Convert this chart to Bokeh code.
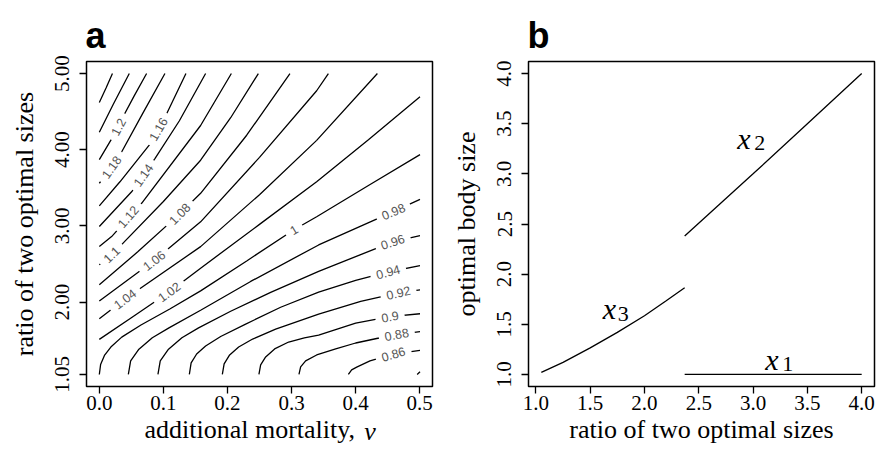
from bokeh.plotting import figure
from bokeh.layouts import row
from bokeh.models import Range1d, FixedTicker, LinearAxis
from bokeh.embed import file_html
from bokeh.resources import INLINE
from bokeh.core.properties import value

# ---------------- panel a : contour lines (v = additional mortality, r = ratio) ----------------
c124_v = [0.0, 0.0105, 0.0205]
c124_r = [4.62, 4.81, 5.0]
c122_v = [0.0, 0.022, 0.0468]
c122_r = [4.23, 4.60, 5.0]
c120_v = [0.0, 0.019, 0.035, 0.054, 0.0738]
c120_r = [3.87, 4.14, 4.40, 4.70, 5.0]
c118_v = [0.0, 0.0192, 0.0348, 0.068, 0.1024]
c118_r = [3.56, 3.767, 3.97, 4.48, 5.0]
c116_v = [0.0, 0.0322, 0.0816, 0.1051, 0.1352]
c116_r = [3.262, 3.579, 4.10, 4.471, 5.0]
c114_v = [0.0, 0.0504, 0.0687, 0.0868, 0.125, 0.1659]
c114_r = [2.992, 3.448, 3.666, 3.884, 4.38, 5.0]
c112_v = [0.0, 0.0192, 0.066, 0.1581, 0.2061]
c112_r = [2.731, 2.86, 3.297, 4.318, 5.0]
c110_v = [0.0, 0.0192, 0.0348, 0.1, 0.1581, 0.205, 0.2482]
c110_r = [2.49, 2.623, 2.754, 3.32, 3.862, 4.42, 5.0]
c108_v = [0.0, 0.06, 0.1254, 0.1581, 0.23, 0.2975]
c108_r = [2.228, 2.66, 3.158, 3.428, 4.19, 5.0]
c106_v = [0.0, 0.0855, 0.1581, 0.25, 0.3392, 0.3575]
c106_r = [2.014, 2.545, 3.053, 3.90, 4.774, 5.0]
c104_v = [0.0, 0.04, 0.1581, 0.25, 0.3392, 0.434]
c104_r = [1.78, 2.04, 2.728, 3.41, 4.123, 5.0]
c102_v = [0.0, 0.05, 0.109, 0.1581, 0.25, 0.3392, 0.42, 0.5005]
c102_r = [1.511, 1.795, 2.132, 2.445, 3.02, 3.579, 4.13, 4.696]
c100_v = [0.0, 0.002, 0.008, 0.018, 0.035, 0.065, 0.11, 0.1581, 0.23, 0.3038, 0.3392, 0.42, 0.5005]
c100_r = [1.05, 1.18, 1.30, 1.41, 1.54, 1.70, 1.91, 2.147, 2.54, 2.949, 3.12, 3.53, 3.936]
c098_v = [0.0453, 0.0489, 0.0618, 0.0827, 0.1087, 0.1581, 0.2362, 0.3423, 0.4589, 0.5005]
c098_r = [1.05, 1.228, 1.381, 1.532, 1.662, 1.893, 2.271, 2.750, 3.188, 3.349]
c096_v = [0.0915, 0.0951, 0.1080, 0.1289, 0.1549, 0.2050, 0.2674, 0.3423, 0.4079, 0.4579, 0.5005]
c096_r = [1.05, 1.228, 1.381, 1.532, 1.662, 1.880, 2.128, 2.402, 2.623, 2.790, 2.871]
c094_v = [0.1405, 0.1433, 0.1519, 0.1659, 0.1894, 0.2284, 0.2830, 0.3423, 0.4001, 0.4508, 0.5005]
c094_r = [1.05, 1.202, 1.319, 1.424, 1.548, 1.711, 1.932, 2.132, 2.284, 2.395, 2.480]
c092_v = [0.1920, 0.1948, 0.2034, 0.2175, 0.2393, 0.2752, 0.3423, 0.4079, 0.4667, 0.5005]
c092_r = [1.05, 1.189, 1.306, 1.411, 1.515, 1.645, 1.841, 2.010, 2.121, 2.160]
c090_v = [0.2491, 0.2518, 0.2596, 0.2736, 0.2955, 0.3200, 0.3423, 0.4001, 0.4536, 0.5005]
c090_r = [1.05, 1.176, 1.280, 1.385, 1.476, 1.530, 1.567, 1.724, 1.808, 1.847]
c088_v = [0.3116, 0.3142, 0.3220, 0.3392, 0.3689, 0.4001, 0.4329, 0.4641, 0.5005]
c088_r = [1.05, 1.150, 1.228, 1.306, 1.385, 1.463, 1.522, 1.574, 1.613]
c086_v = [0.3887, 0.3938, 0.4017, 0.4224, 0.4589, 0.5005]
c086_r = [1.05, 1.111, 1.147, 1.228, 1.316, 1.365]
c084_v = [0.4961, 0.5005]
c084_r = [1.05, 1.085]

contours_v = [c124_v, c122_v, c120_v, c118_v, c116_v, c114_v, c112_v, c110_v, c108_v,
              c106_v, c104_v, c102_v, c100_v, c098_v, c096_v, c094_v, c092_v, c090_v,
              c088_v, c086_v, c084_v]
contours_r = [c124_r, c122_r, c120_r, c118_r, c116_r, c114_r, c112_r, c110_r, c108_r,
              c106_r, c104_r, c102_r, c100_r, c098_r, c096_r, c094_r, c092_r, c090_r,
              c088_r, c086_r, c084_r]

# contour labels
clab_text = ["1.2", "1.18", "1.16", "1.14", "1.12", "1.1", "1.08", "1.06", "1.04", "1.02", "1",
             "0.98", "0.96", "0.94", "0.92", "0.9", "0.88", "0.86"]
clab_v = [0.0297, 0.0192, 0.0921, 0.0687, 0.045, 0.0192, 0.1254, 0.0855, 0.04, 0.109, 0.3038,
          0.4589, 0.458, 0.4508, 0.4667, 0.4536, 0.4641, 0.4589]
clab_r = [4.30, 3.77, 4.27, 3.666, 3.12, 2.623, 3.158, 2.545, 2.04, 2.132, 2.949,
          3.188, 2.79, 2.395, 2.121, 1.808, 1.574, 1.316]
clab_angle = [62, 55, 59, 55, 49, 44, 45, 38, 37, 36, 31, 23, 18, 15, 13, 10, 11, 16]

a_xticks = [0.0, 0.1, 0.2, 0.3, 0.4, 0.5]
a_xtick_labels = ["0.0", "0.1", "0.2", "0.3", "0.4", "0.5"]
a_yticks = [1.05, 2.0, 3.0, 4.0, 5.0]
a_ytick_labels = ["1.05", "2.00", "3.00", "4.00", "5.00"]

# ---------------- panel b : optimal body sizes ----------------
x3_ratio = [1.05, 1.25, 1.5, 1.75, 2.0, 2.2, 2.37]
x3_size = [1.02, 1.12, 1.265, 1.42, 1.585, 1.735, 1.865]
x2_ratio = [2.37, 3.0, 3.5, 4.0]
x2_size = [2.38, 3.0, 3.5, 4.0]
x1_ratio = [2.37, 4.0]
x1_size = [1.0, 1.0]
b_names = ["x", "x", "x"]
b_subs = ["3", "2", "1"]
b_name_x = [1.615, 2.855, 3.112]
b_name_y = [1.657, 3.348, 1.149]
b_sub_x = [1.753, 3.011, 3.268]
b_sub_y = [1.607, 3.304, 1.102]

b_ticks = [1.0, 1.5, 2.0, 2.5, 3.0, 3.5, 4.0]
b_tick_labels = ["1.0", "1.5", "2.0", "2.5", "3.0", "3.5", "4.0"]

SERIF = "Liberation Serif"
SANS = "Liberation Sans"
H = 453
TOP = 61
BOTTOM = 67
TITLE_PX = "26px"
NBSP = "\u00a0"


def style(p, xt, xl, yt, yl, xtitle, ytitle, letter):
    p.grid.visible = False
    p.outline_line_color = "black"
    p.outline_line_width = 1.5
    p.background_fill_color = "white"
    p.border_fill_color = "white"
    p.xaxis.ticker = FixedTicker(ticks=xt)
    p.xaxis.major_label_overrides = {t: l for t, l in zip(xt, xl)}
    p.yaxis.ticker = FixedTicker(ticks=yt)
    p.yaxis.major_label_overrides = {t: l for t, l in zip(yt, yl)}
    for ax in (p.xaxis[0], p.yaxis[0]):
        ax.axis_line_color = None
        ax.major_tick_line_color = "black"
        ax.major_tick_line_width = 1.3
        ax.major_tick_out = 7
        ax.major_tick_in = 0
        ax.minor_tick_line_color = None
        ax.major_label_text_font = SERIF
        ax.major_label_text_font_size = "21px"
        ax.major_label_text_color = "black"
        ax.axis_label_text_font = SERIF
        ax.axis_label_text_font_size = TITLE_PX
        ax.axis_label_text_font_style = "normal"
        ax.axis_label_text_color = "black"
    p.xaxis.major_label_standoff = 2
    p.xaxis.axis_label = xtitle
    p.xaxis.axis_label_standoff = 2
    p.yaxis.major_label_standoff = 10
    p.yaxis.major_label_orientation = "vertical"
    p.yaxis.axis_label = ytitle
    p.yaxis.axis_label_standoff = 14
    p.title.text = letter
    p.title.align = "left"
    p.title.offset = -1
    p.title.standoff = 12
    p.title.text_font = SANS
    p.title.text_font_size = "36px"
    p.title.text_font_style = "bold"
    p.title.text_color = "black"


# ---------------- figure a ----------------
pa = figure(width=440, height=H, x_range=Range1d(-0.02, 0.52), y_range=Range1d(0.892, 5.158),
            output_backend="svg", toolbar_location=None,
            min_border_left=86, min_border_right=8, min_border_top=TOP, min_border_bottom=BOTTOM)
style(pa, a_xticks, a_xtick_labels, a_yticks, a_ytick_labels,
      "additional mortality," + NBSP * 3, "ratio of two optimal sizes", "a")

# the italic "v" of the x title: label of a tick-less second axis lifted onto the same row,
# pushed right by leading no-break spaces
v_axis = LinearAxis(ticker=FixedTicker(ticks=[]), axis_label=NBSP * 34 + "v",
                    axis_line_color=None, major_tick_line_color=None, minor_tick_line_color=None,
                    major_tick_out=0, major_label_standoff=0, axis_label_standoff=-30,
                    axis_label_text_font=SERIF, axis_label_text_font_size=TITLE_PX,
                    axis_label_text_font_style="italic", axis_label_text_color="black")
pa.add_layout(v_axis, "below")

pa.multi_line(xs=contours_v, ys=contours_r, line_color="black", line_width=1.3)

# white gaps for the labels
LAB_PX = 12.5
gap_w = [sum(0.556 if ch.isdigit() else 0.278 for ch in t) * LAB_PX + 12 for t in clab_text]
pa.rect(x=clab_v, y=clab_r, width=gap_w, height=10, width_units="screen", height_units="screen",
        angle=clab_angle, angle_units="deg", fill_color="white", line_color=None)
pa.text(x=clab_v, y=clab_r, text=clab_text, angle=clab_angle, angle_units="deg",
        text_font=value(SANS), text_font_size=f"{LAB_PX}px", text_color="#555555",
        text_align="center", text_baseline="middle")

# ---------------- figure b ----------------
pb = figure(width=436, height=H, x_range=Range1d(0.932, 4.118), y_range=Range1d(0.88, 4.12),
            output_backend="svg", toolbar_location=None,
            min_border_left=88, min_border_right=2, min_border_top=TOP, min_border_bottom=BOTTOM)
style(pb, b_ticks, b_tick_labels, b_ticks, b_tick_labels,
      "ratio of two optimal sizes", "optimal body size", "b")

pb.line(x3_ratio, x3_size, line_color="black", line_width=1.3)
pb.line(x2_ratio, x2_size, line_color="black", line_width=1.3)
pb.line(x1_ratio, x1_size, line_color="black", line_width=1.3)

pb.text(x=b_name_x, y=b_name_y, text=b_names, text_font=value(SERIF), text_font_size="30px",
        text_font_style="italic", text_color="black", text_align="left", text_baseline="alphabetic")
pb.text(x=b_sub_x, y=b_sub_y, text=b_subs, text_font=value(SERIF), text_font_size="22px",
        text_color="black", text_align="left", text_baseline="alphabetic")

layout = row(pa, pb)
open("out.html", "w").write(file_html(layout, INLINE))
